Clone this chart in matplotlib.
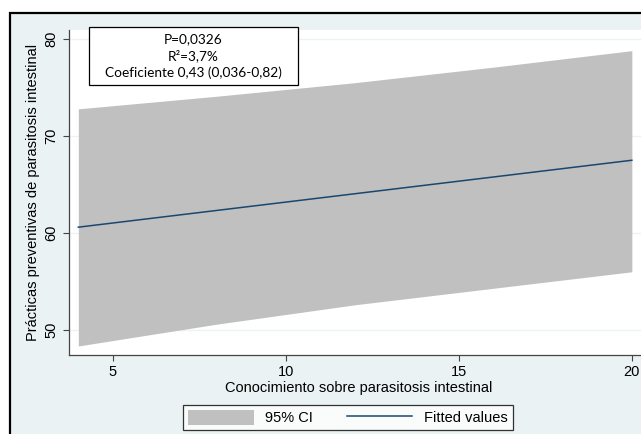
import matplotlib
matplotlib.use("Agg")
import matplotlib.pyplot as plt
from matplotlib.patches import Rectangle

plt.rcParams['font.family'] = ['Liberation Sans', 'DejaVu Sans']

# valores
x_fit = [4, 20]
y_fit = [60.6, 67.5]
x_ci = [4, 8, 10, 12, 16, 20]
ci_hi = [72.8, 74.1, 74.8, 75.5, 77.1, 78.8]
ci_lo = [48.35, 50.6, 51.6, 52.6, 54.3, 56.0]
xticks = [5, 10, 15, 20]
yticks = [50, 60, 70, 80]
stats_lines = ["P=0,0326", "R\u00b2=3,7%", "Coeficiente 0,43 (0,036-0,82)"]

BG = "#eaf2f3"
NAVY = "#1a476f"
W, H = 641, 434

fig = plt.figure(figsize=(W / 100, H / 100), dpi=100)
fig.patch.set_facecolor("white")
fig.patches.append(Rectangle((10 / W, -0.05), 1.2, (H - 13) / H + 0.05,
                             transform=fig.transFigure, facecolor=BG,
                             edgecolor="black", lw=1.6, zorder=-5))

ax = fig.add_axes([69 / W, (H - 355) / H, (W - 69) / W + 0.01, (355 - 30) / H])
ax.set_zorder(1)
ax.set_facecolor("white")
ci = ax.fill_between(x_ci, ci_lo, ci_hi, color="#c0c0c0", lw=0, label="95% CI")
ln, = ax.plot(x_fit, y_fit, color=NAVY, lw=1.1, label="Fitted values")

ax.set_xlim(3.73, 20.45)
ax.set_ylim(47.42, 80.93)
ax.set_xticks(xticks)
ax.set_yticks(yticks)
ax.grid(axis="y", color="#edf2f3", lw=1)
ax.set_axisbelow(True)
for s in ["top", "right"]:
    ax.spines[s].set_visible(False)
for s in ["left", "bottom"]:
    ax.spines[s].set_color("#444444")
    ax.spines[s].set_linewidth(0.9)
ax.tick_params(colors="#444444", length=4, width=0.8, labelcolor="black", labelsize=10.5)
plt.setp(ax.get_yticklabels(), rotation=90, va="center")
ax.set_xlabel("Conocimiento sobre parasitosis intestinal", fontsize=10.5, labelpad=1)
ax.set_ylabel("Prácticas preventivas de parasitosis intestinal", fontsize=10.5, labelpad=3)

# caja de estadisticos
ax.add_artist(Rectangle((89 / W, (H - 85) / H), 209 / W, 58 / H,
                        transform=fig.transFigure, facecolor="white",
                        edgecolor="black", lw=0.9, zorder=5, clip_on=False))
for i, t in enumerate(stats_lines):
    ax.text(193.5 / W, (H - 39 - 17 * i) / H, t, ha="center", va="center",
            transform=fig.transFigure, fontsize=9.8,
            family=["Lato", "DejaVu Sans"], zorder=6)

leg = fig.legend(handles=[ci, ln], loc="center", ncol=2,
                 bbox_to_anchor=(348 / W, (H - 417.5) / H), fontsize=10.5,
                 frameon=True, fancybox=False, edgecolor="black",
                 handlelength=4.5, handleheight=1.2, handletextpad=0.8,
                 columnspacing=2.3, borderpad=0.35)
leg.get_frame().set_linewidth(0.9)
leg.set_zorder(2)

fig.savefig("out.png", dpi=100)
